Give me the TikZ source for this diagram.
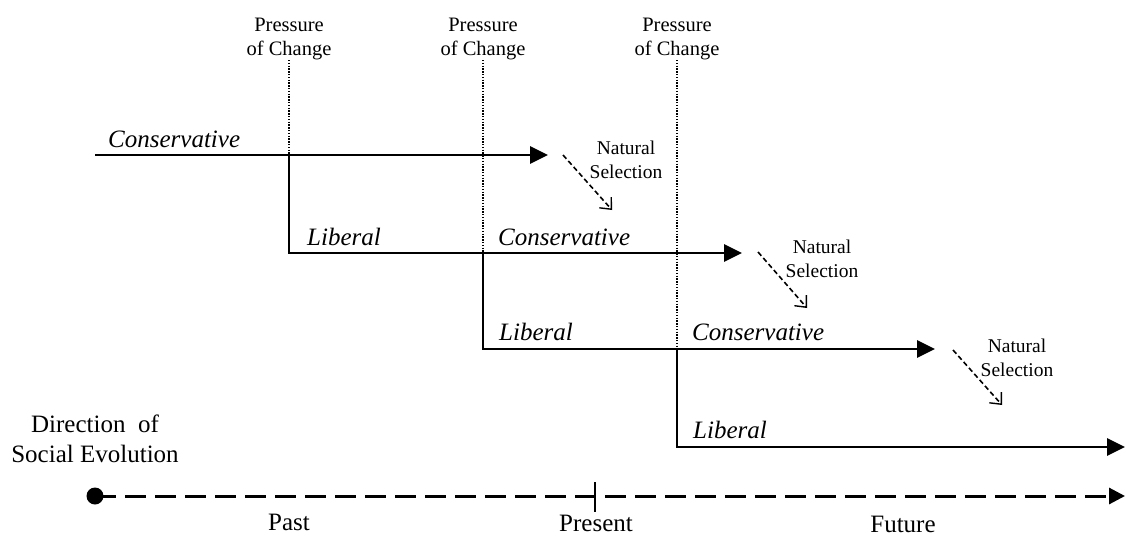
\documentclass[tikz,border=0pt]{standalone}
\usepackage{fontspec}
\setmainfont{Liberation Serif}
\usetikzlibrary{arrows.meta}
\begin{document}
\begin{tikzpicture}[x=1pt,y=-1pt,
  mainline/.style={line width=2.7pt, line join=miter, -{Triangle[length=18pt,width=17pt]}},
  pressdot/.style={line width=2.4pt, dash pattern=on 1.4pt off 1.4pt},
  selarrow/.style={line width=1.6pt, dash pattern=on 5pt off 3pt, -{Straight Barb[length=9pt,width=16pt,line width=1.4pt]}},
  pressure/.style={font=\fontsize{20.5}{24}\selectfont, align=center, anchor=south, inner sep=0pt},
  natsel/.style={font=\fontsize{19.5}{24}\selectfont, align=center, anchor=south, inner sep=0pt},
  tendency/.style={font=\fontsize{25}{30}\selectfont\itshape, anchor=base west, inner sep=0pt},
  timelabel/.style={font=\fontsize{25}{30}\selectfont, anchor=base, inner sep=0pt},
  axis/.style={line width=3pt, dash pattern=on 21pt off 9pt, -{Triangle[length=16pt,width=16pt]}}
]
\useasboundingbox (0,0) rectangle (1126,536);

% Pressure of change labels
\node[pressure] (p1) at (289,60) {Pressure\\of Change};
\node[pressure] (p2) at (483,60) {Pressure\\of Change};
\node[pressure] (p3) at (677,60) {Pressure\\of Change};

% coordinates
\coordinate (s1) at (95,155);
\coordinate (t1) at (548,155);
\coordinate (j1) at (289,155);
\coordinate (k1) at (289,253);
\coordinate (t2) at (742,253);
\coordinate (j2) at (483,253);
\coordinate (k2) at (483,349);
\coordinate (t3) at (935,349);
\coordinate (j3) at (677,349);
\coordinate (k3) at (677,447);
\coordinate (t4) at (1125,447);

% dotted pressure lines
\draw[pressdot] (p1.south) -- (j1);
\draw[pressdot] (p2.south) -- (j2);
\draw[pressdot] (p3.south) -- (j3);

% main lines
\draw[mainline] (s1) -- (t1);
\draw[mainline] (j1) -- (k1) -- (t2);
\draw[mainline] (j2) -- (k2) -- (t3);
\draw[mainline] (j3) -- (k3) -- (t4);

% tendency labels
\node[tendency] (c1) at (108,147) {Conservative};
\node[tendency] (l2) at (307,245) {Liberal};
\node[tendency] (c2) at (498,245) {Conservative};
\node[tendency] (l3) at (499,340) {Liberal};
\node[tendency] (c3) at (692,340) {Conservative};
\node[tendency] (l4) at (693,438) {Liberal};

% natural selection
\node[natsel] (n1) at (626,179) {Natural\\Selection};
\node[natsel] (n2) at (822,278) {Natural\\Selection};
\node[natsel] (n3) at (1017,377) {Natural\\Selection};
\coordinate (a1s) at (563,155);
\coordinate (a1e) at (612,210);
\coordinate (a2s) at (758,252);
\coordinate (a2e) at (807,308);
\coordinate (a3s) at (953,350);
\coordinate (a3e) at (1002,405);
\draw[selarrow] (a1s) -- (a1e);
\draw[selarrow] (a2s) -- (a2e);
\draw[selarrow] (a3s) -- (a3e);

% direction of social evolution
\node[font=\fontsize{25}{30}\selectfont, align=center, anchor=south, inner sep=0pt] (dir) at (95,463) {Direction\ \ of\\Social Evolution};

% time axis
\node[circle, fill=black, minimum size=17pt, inner sep=0pt] (dot) at (95,496) {};
\coordinate (axend) at (1125,496);
\draw[axis] (dot.center) -- (axend);
\coordinate (tickt) at (595,482);
\coordinate (tickb) at (595,512);
\draw[line width=2.6pt] (tickt) -- (tickb);

\node[timelabel] (past) at (289,530) {Past};
\node[timelabel] (present) at (596,531) {Present};
\node[timelabel] (future) at (903,532) {Future};
\end{tikzpicture}
\end{document}
